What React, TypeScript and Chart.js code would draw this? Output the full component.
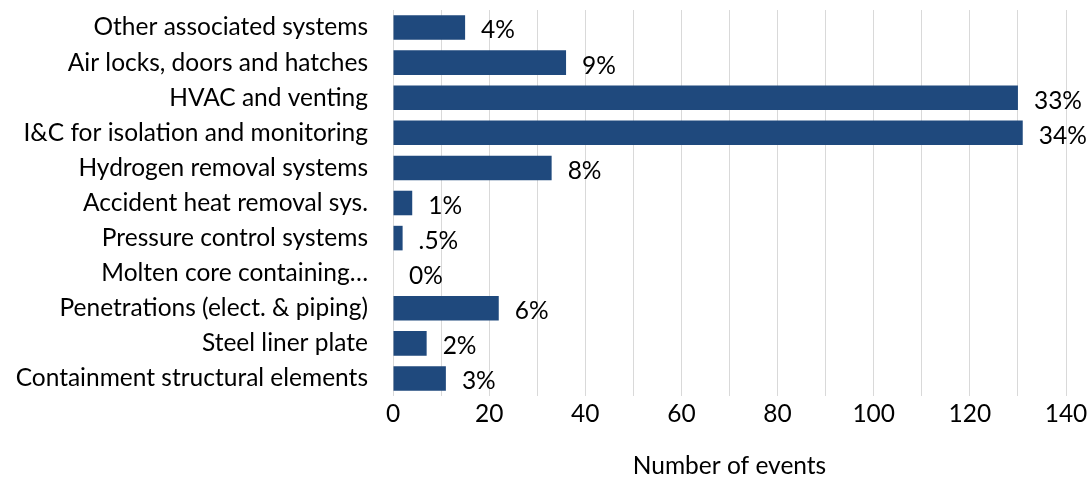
import React, { useEffect, useRef } from "react";
import { Chart, registerables } from "chart.js";

Chart.register(...registerables);

const categories = [
  "Other associated systems",
  "Air locks, doors and hatches",
  "HVAC and venting",
  "I&C for isolation and monitoring",
  "Hydrogen removal systems",
  "Accident heat removal sys.",
  "Pressure control systems",
  "Molten core containing…",
  "Penetrations (elect. & piping)",
  "Steel liner plate",
  "Containment structural elements",
];

const eventCounts = [15, 36, 130, 131, 33, 4, 2, 0, 22, 7, 11];

const percentLabels = ["4%", "9%", "33%", "34%", "8%", "1%", ".5%", "0%", "6%", "2%", "3%"];

const xMin = 0;
const xMax = 140;
const gridStep = 10;
const labelStep = 20;
const xTitle = "Number of events";

const FONT = "Lato, 'Open Sans', sans-serif";
const FONT_SIZE = 24.5;

const dataLabelPlugin = {
  id: "dataLabels",
  afterDatasetsDraw(chart: any) {
    const ctx = chart.ctx;
    const meta = chart.getDatasetMeta(0);
    ctx.save();
    ctx.font = `${FONT_SIZE}px ${FONT}`;
    ctx.fillStyle = "#000000";
    ctx.textAlign = "left";
    ctx.textBaseline = "middle";
    meta.data.forEach((bar: any, i: number) => {
      ctx.fillText(percentLabels[i], bar.x + 16, bar.y + 3);
    });
    ctx.restore();
  },
};

export default function App() {
  const canvasRef = useRef<HTMLCanvasElement | null>(null);

  useEffect(() => {
    if (!canvasRef.current) return;
    const chart = new Chart(canvasRef.current, {
      type: "bar",
      data: {
        labels: categories,
        datasets: [
          {
            data: eventCounts,
            backgroundColor: "#1f497d",
            borderWidth: 0,
            barPercentage: 0.7,
            categoryPercentage: 1,
          },
        ],
      },
      options: {
        indexAxis: "y",
        animation: false,
        responsive: true,
        maintainAspectRatio: false,
        layout: { padding: { top: 10, right: 26, bottom: 0, left: 0 } },
        plugins: {
          legend: { display: false },
          tooltip: { enabled: false },
        },
        scales: {
          x: {
            min: xMin,
            max: xMax,
            grid: { color: "#d9d9d9", lineWidth: 1, drawTicks: false },
            border: { display: false },
            ticks: {
              stepSize: gridStep,
              autoSkip: false,
              maxRotation: 0,
              padding: 3,
              color: "#000000",
              font: { family: FONT, size: FONT_SIZE },
              callback: (v: any) => (Number(v) % labelStep === 0 ? String(v) : ""),
            },
            title: {
              display: true,
              text: xTitle,
              color: "#000000",
              font: { family: FONT, size: FONT_SIZE },
              padding: { top: 4, bottom: 3 },
            },
            afterFit: (scale: any) => {
              scale.height = 88;
              scale.paddingLeft = 0;
              scale.paddingRight = 0;
            },
          },
          y: {
            grid: { display: false, drawTicks: false },
            border: { display: false },
            ticks: {
              padding: 25,
              autoSkip: false,
              color: "#000000",
              font: { family: FONT, size: FONT_SIZE },
            },
            afterFit: (scale: any) => {
              scale.width = 393;
              scale.paddingTop = 0;
              scale.paddingBottom = 0;
            },
          },
        },
      },
      plugins: [dataLabelPlugin],
    });
    return () => chart.destroy();
  }, []);

  return (
    <div style={{ position: "fixed", left: 0, top: 0, width: 1092, height: 484, background: "#ffffff" }}>
      <canvas ref={canvasRef} />
    </div>
  );
}
